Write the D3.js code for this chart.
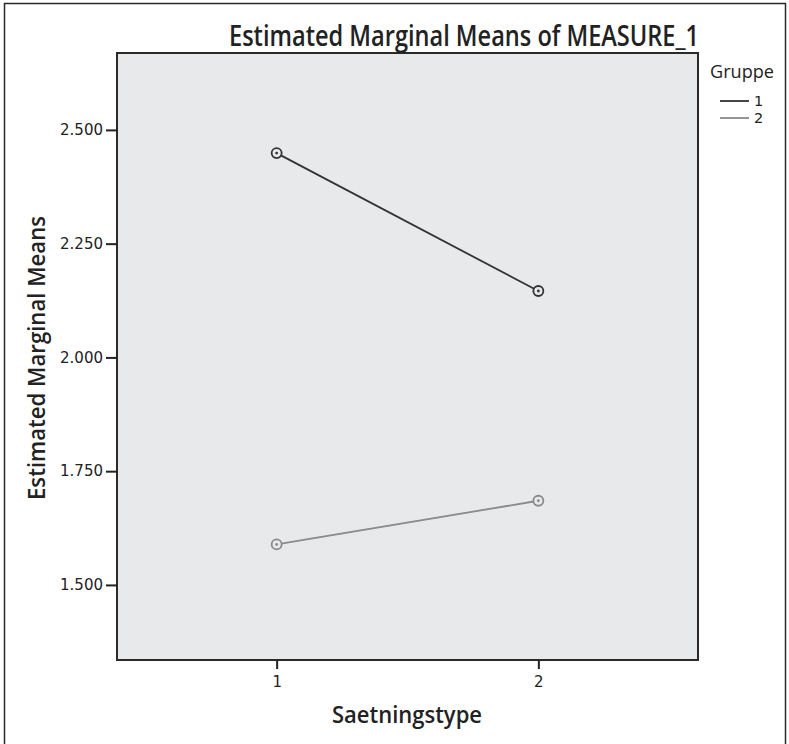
<!DOCTYPE html>
<html>
<head>
<meta charset="utf-8">
<script src="https://cdn.jsdelivr.net/npm/d3@7"></script>
<title>Estimated Marginal Means of MEASURE_1</title>
<style>
body {
	margin: 0;
	background: white;
}
text {
	fill: #222;
}
</style>
</head>
<body>
<div id="graph"></div>
<script>

// -- data

var categories = ["1", "2"];
var groups = ["1", "2"];
var group1 = [2.449, 2.146];
var group2 = [1.589, 1.685];
var yTicks = [1.5, 1.75, 2.0, 2.25, 2.5];

var colors = ["#333333", "#8a8a8a"];

// -- setting

var width = 789,
	height = 744;
var plot = { left: 117, top: 53, right: 698, bottom: 660 };

var svg = d3.select("#graph")
	.append("svg")
		.attr("width", width)
		.attr("height", height);

// outer frame
svg.append("rect")
	.attr("x", 4.5)
	.attr("y", 3.5)
	.attr("width", 781)
	.attr("height", 760)
	.attr("fill", "white")
	.attr("stroke", "#2a2a2a")
	.attr("stroke-width", 1.5);

// plot background
svg.append("rect")
	.attr("x", plot.left)
	.attr("y", plot.top)
	.attr("width", plot.right - plot.left)
	.attr("height", plot.bottom - plot.top)
	.attr("fill", "#e8e9eb")
	.attr("stroke", "#2a2a2a")
	.attr("stroke-width", 2);

// scales
var x = d3.scalePoint()
	.domain(categories)
	.range([plot.left, plot.right])
	.padding(0.61);

var y = d3.scaleLinear()
	.domain([1.335, 2.669])
	.range([plot.bottom, plot.top]);

// y axis
var yAxis = svg.append("g")
	.attr("transform", "translate(" + plot.left + ",0)")
	.call(d3.axisLeft(y)
		.tickValues(yTicks)
		.tickFormat(d3.format(".3f"))
		.tickSize(11)
		.tickPadding(3));
yAxis.select(".domain").remove();
yAxis.selectAll("line")
	.attr("stroke", "#222")
	.attr("stroke-width", 2);
yAxis.selectAll("text")
	.attr("font-family", "DejaVu Sans")
	.attr("font-size", 15)
	.attr("fill", "#222");

// x axis
var xAxis = svg.append("g")
	.attr("transform", "translate(0," + plot.bottom + ")")
	.call(d3.axisBottom(x)
		.tickSize(9)
		.tickPadding(7));
xAxis.select(".domain").remove();
xAxis.selectAll("line")
	.attr("stroke", "#222")
	.attr("stroke-width", 2);
xAxis.selectAll("text")
	.attr("font-family", "DejaVu Sans")
	.attr("font-size", 15)
	.attr("fill", "#222");

// -- titles (condensed look: squeeze glyphs to the width seen in the picture)

svg.append("text")
	.attr("x", 464)
	.attr("y", 46)
	.attr("text-anchor", "middle")
	.attr("font-family", "Open Sans")
	.attr("font-weight", 600)
	.attr("font-size", 28)
	.attr("textLength", 470)
	.attr("lengthAdjust", "spacingAndGlyphs")
	.text("Estimated Marginal Means of MEASURE_1");

svg.append("text")
	.attr("x", 407)
	.attr("y", 723)
	.attr("text-anchor", "middle")
	.attr("font-family", "Open Sans")
	.attr("font-weight", 600)
	.attr("font-size", 24)
	.attr("textLength", 150)
	.attr("lengthAdjust", "spacingAndGlyphs")
	.text("Saetningstype");

svg.append("text")
	.attr("transform", "translate(45,358) rotate(-90)")
	.attr("text-anchor", "middle")
	.attr("font-family", "Open Sans")
	.attr("font-weight", 600)
	.attr("font-size", 24)
	.attr("textLength", 284)
	.attr("lengthAdjust", "spacingAndGlyphs")
	.text("Estimated Marginal Means");

// -- lines

var series = [
	{ name: groups[0], values: group1, color: colors[0] },
	{ name: groups[1], values: group2, color: colors[1] }
];

var line = d3.line()
	.x((d, i) => x(categories[i]))
	.y(d => y(d));

var g = svg.selectAll(".series")
	.data(series)
	.enter()
	.append("g")
	.attr("class", "series");

g.append("path")
	.attr("d", d => line(d.values))
	.attr("fill", "none")
	.attr("stroke", d => d.color)
	.attr("stroke-width", 1.8);

g.each(function(s) {
	var pts = d3.select(this).selectAll(".pt")
		.data(s.values)
		.enter()
		.append("g")
		.attr("class", "pt")
		.attr("transform", (d, i) => "translate(" + x(categories[i]) + "," + y(d) + ")");
	pts.append("circle")
		.attr("r", 5)
		.attr("fill", "#e8e9eb")
		.attr("stroke", s.color)
		.attr("stroke-width", 1.8);
	pts.append("circle")
		.attr("r", 1.4)
		.attr("fill", s.color);
});

// -- legend

svg.append("text")
	.attr("x", 710)
	.attr("y", 78)
	.attr("font-family", "Open Sans")
	.attr("font-size", 19)
	.attr("textLength", 64)
	.attr("lengthAdjust", "spacingAndGlyphs")
	.text("Gruppe");

var leg = svg.selectAll(".leg")
	.data(series)
	.enter()
	.append("g")
	.attr("class", "leg")
	.attr("transform", (d, i) => "translate(720," + (101 + i * 17) + ")");

leg.append("line")
	.attr("x1", 0)
	.attr("x2", 29)
	.attr("stroke", d => d.color)
	.attr("stroke-width", 1.8);

leg.append("text")
	.attr("x", 34)
	.attr("y", 5)
	.attr("font-family", "DejaVu Sans")
	.attr("font-size", 14.5)
	.text(d => d.name);

</script>
</body>
</html>
